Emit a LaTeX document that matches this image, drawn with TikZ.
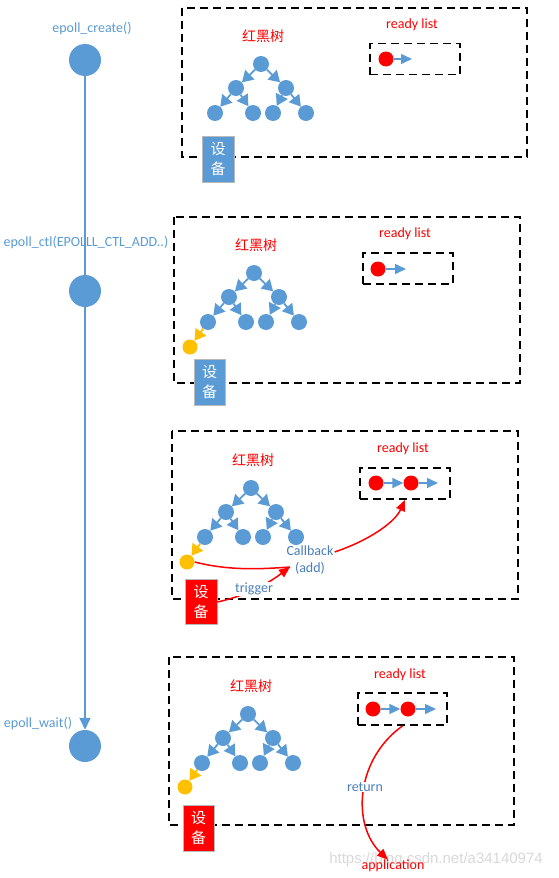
\documentclass[tikz,border=0pt]{standalone}
\usepackage{fontspec}
\setmainfont{Carlito}
\newfontfamily\cjk{Noto Sans CJK SC}
\newfontfamily\wmfont{Liberation Sans}
\usetikzlibrary{arrows.meta}
\definecolor{nblue}{HTML}{5B9BD5}
\definecolor{tblue}{HTML}{4A7EBB}
\definecolor{myred}{HTML}{FF0000}
\definecolor{myyel}{HTML}{FFC000}
\tikzset{
  panel/.style={draw=black, line width=1.8pt, dash pattern=on 8pt off 5pt},
  rlbox/.style={draw=black, line width=1.8pt, dash pattern=on 8pt off 5pt, inner sep=0pt},
  tn/.style={circle, fill=nblue, minimum size=16pt, inner sep=0pt},
  tl/.style={circle, fill=nblue, minimum size=32pt, inner sep=0pt},
  rn/.style={circle, fill=myred, minimum size=15pt, inner sep=0pt},
  yn/.style={circle, fill=myyel, minimum size=15pt, inner sep=0pt},
  tarr/.style={draw=nblue, line width=1.8pt, -{Triangle[length=11pt,width=13pt]}},
  yarr/.style={draw=myyel, line width=1.8pt, -{Triangle[length=11pt,width=13pt]}},
  larr/.style={draw=nblue, line width=1.5pt, -{Triangle[length=11pt,width=10pt]}},
  redarr/.style={draw=myred, line width=1.5pt, -{Triangle[length=11pt,width=9pt]}},
  redline/.style={draw=myred, line width=1.5pt},
  devbox/.style={draw=gray!55, line width=0.8pt, text=white, align=center, inner sep=0pt,
    minimum width=31pt, minimum height=46pt, font=\cjk\fontsize{15}{20}\selectfont},
  redlbl/.style={text=myred, font=\fontsize{14}{16}\selectfont, inner sep=0pt},
  cjklbl/.style={text=myred, font=\cjk\fontsize{14}{16}\selectfont, inner sep=0pt},
  bluelbl/.style={text=tblue, font=\fontsize{14}{16}\selectfont, inner sep=1pt},
  eplbl/.style={text=nblue, font=\fontsize{14}{16}\selectfont, inner sep=0pt},
  wmlbl/.style={text=gray!30, font=\wmfont\fontsize{15}{17}\selectfont, inner sep=0pt},
}
\newcommand{\rbtree}{%
  \node[tn] (r) at (0,0) {};
  \node[tn] (l) at (-25,24) {};
  \node[tn] (rr) at (25,24) {};
  \node[tn] (ll) at (-46,49) {};
  \node[tn] (lr) at (-8,49) {};
  \node[tn] (rl) at (12,49) {};
  \node[tn] (rrr) at (45,49) {};
  \draw[tarr] (r) -- (l);
  \draw[tarr] (r) -- (rr);
  \draw[tarr] (l) -- (ll);
  \draw[tarr] (l) -- (lr);
  \draw[tarr] (rr) -- (rl);
  \draw[tarr] (rr) -- (rrr);
}
\begin{document}
\begin{tikzpicture}[x=1pt,y=-1pt]
\useasboundingbox (0,0) rectangle (558,878);
\fill[white] (0,0) rectangle (558,878);

% ---------- timeline ----------
\node[eplbl] (lab1) at (92,29) {epoll\_create()};
\node[eplbl] (lab2) at (86,243) {epoll\_ctl(EPOLLL\_CTL\_ADD..)};
\node[eplbl] (lab3) at (38,723) {epoll\_wait()};
\node[tl] (c1) at (85,60) {};
\node[tl] (c3) at (85,746) {};
\draw[draw=nblue, line width=1.5pt, -{Triangle[length=12pt,width=11pt]}] (c1) -- (c3);
\node[tl] (c2) at (85,291) {};

% ---------- panel 1 ----------
\draw[panel] (182,8) rectangle (527,157);
\node[cjklbl] (t1) at (263,36) {红黑树};
\begin{scope}[shift={(261,64)}, name prefix=a-]
  \rbtree
\end{scope}
\node[redlbl] (rlt1) at (412,25) {ready list};
\node[rlbox, minimum width=90pt, minimum height=31pt] (rl1) at (415,59) {};
\node[rn] (a1) at (386,59) {};
\coordinate (a1e) at (412,59);
\draw[larr] (a1) -- (a1e);
\node[devbox, fill=nblue, minimum width=32pt] (d1) at (218,159) {设\\备};

% ---------- panel 2 ----------
\draw[panel] (174,217) rectangle (520,383);
\node[cjklbl] (t2) at (256,245) {红黑树};
\begin{scope}[shift={(254,273)}, name prefix=b-]
  \rbtree
  \node[yn] (y) at (-64,74) {};
  \draw[yarr] (ll) -- (y);
\end{scope}
\node[redlbl] (rlt2) at (405,234) {ready list};
\node[rlbox, minimum width=90pt, minimum height=31pt] (rl2) at (408,268.5) {};
\node[rn] (b1) at (378,269) {};
\coordinate (b1e) at (406,269);
\draw[larr] (b1) -- (b1e);
\node[devbox, fill=nblue] (d2) at (209.5,382) {设\\备};

% ---------- panel 3 ----------
\draw[panel] (172,431) rectangle (518,599);
\node[cjklbl] (t3) at (253,460) {红黑树};
\begin{scope}[shift={(251,488)}, name prefix=c-]
  \rbtree
  \node[yn] (y) at (-64,74) {};
  \draw[yarr] (ll) -- (y);
\end{scope}
\node[redlbl] (rlt3) at (403,449) {ready list};
\node[rlbox, minimum width=90pt, minimum height=31pt] (rl3) at (405,483.5) {};
\node[rn] (r31) at (376,483) {};
\node[rn] (r32) at (411,483) {};
\coordinate (r32e) at (438,483);
\draw[larr] (r31) -- (r32);
\draw[larr] (r32) -- (r32e);
\node[devbox, fill=myred, minimum width=32pt, minimum height=45pt] (d3) at (201,601.5) {设\\备};
\node[bluelbl, align=center, font=\fontsize{14}{17}\selectfont] (cb) at (310,560) {Callback\\(add)};
\coordinate (cbin) at (290,567);
\draw[redline] (c-y.east) .. controls (230,571) and (262,569) .. (cbin);
\draw[redarr] (d3.east |- 0,602) .. controls (240,597) and (262,588) .. (cbin);
\node[bluelbl, fill=white, inner sep=0.5pt] (trg) at (254,589) {trigger};
\draw[redarr] (cb.east |- 0,552) .. controls (370,540) and (395,522) .. (rl3.south);

% ---------- panel 4 ----------
\draw[panel] (169,657) rectangle (514,825);
\node[cjklbl] (t4) at (251,686) {红黑树};
\begin{scope}[shift={(248,714)}, name prefix=d-]
  \rbtree
  \node[yn] (y) at (-63,73) {};
  \draw[yarr] (ll) -- (y);
\end{scope}
\node[redlbl] (rlt4) at (400,675) {ready list};
\node[rlbox, minimum width=89pt, minimum height=32pt] (rl4) at (402.5,709) {};
\node[rn] (r41) at (373,709) {};
\node[rn] (r42) at (408,709) {};
\coordinate (r42e) at (436,709);
\draw[larr] (r41) -- (r42);
\draw[larr] (r42) -- (r42e);
\node[devbox, fill=myred] (d4) at (198.5,828) {设\\备};
\node[wmlbl] (wm) at (436,860) {https://blog.csdn.net/a34140974};
\node[redlbl] (app) at (393,866) {application};
\draw[redarr] (rl4.south) .. controls (355,760) and (352,825) .. (app.north -| 388,0);
\node[bluelbl, fill=white] (ret) at (365,787) {return};
\end{tikzpicture}
\end{document}
